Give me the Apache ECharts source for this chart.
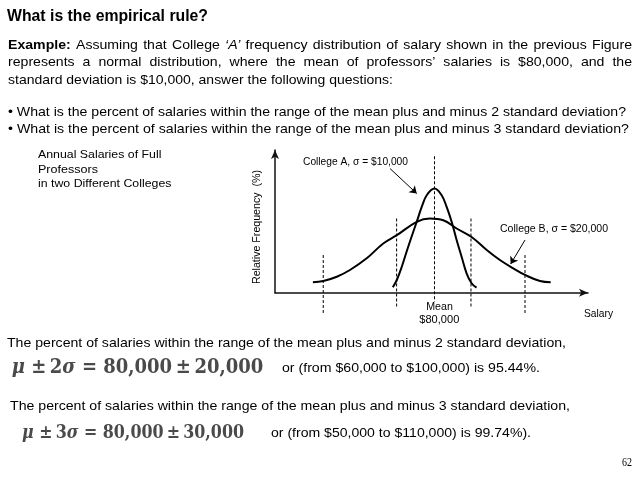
<!DOCTYPE html>
<html><head><meta charset="utf-8">
<script src="https://cdn.jsdelivr.net/npm/echarts@6/dist/echarts.min.js"></script>
<style>html,body{margin:0;padding:0;background:#fff}#c{width:638px;height:479px}</style>
</head><body><div id="c"></div>
<script>
// ---- data (salary in $1000, relative frequency in %) ----
const collegeA = [[59.1,3.8],[61.1,8.9],[63.6,18.2],[66.0,28.7],[68.5,39.2],[71.1,49.7],[73.6,60.1],[76.1,68.3],[80,73],[83.6,68.3],[86.1,60.1],[88.6,49.7],[91.1,36.9],[93.6,25.2],[96.1,13.6],[98.6,6.6],[101.1,3.5]];
const collegeB = [[19,7.3],[24.2,8.2],[31,11.2],[37.6,15.9],[46,24.1],[54.3,34.5],[61.1,40.3],[71.1,49.7],[77.7,52],[84.4,50.8],[91.1,45],[98.6,39],[106.2,29.9],[112.8,22.9],[119.5,17.1],[126.2,11.9],[132.9,8.2],[138.3,7.3]];
const dashX = [24.2, 61.0, 80, 98.3, 125.4];
const dashTop = [26.4, 52, 95.6, 52, 26.4];
const dashBottom = [-14.2, -10.7, -6.3, -10.7, -15];
const arrowA = [[57.7, 87], [71.1, 69.5]];
const arrowB = [[125.4, 36.9], [118.2, 20.1]];
const labelA = 'College A, σ = $10,000';
const labelB = 'College B, σ = $20,000';

// ---- text helpers ----
const ctx = document.createElement('canvas').getContext('2d');
function mw(t, font){ ctx.font = font; return ctx.measureText(t).width; }
const SANS = '"Liberation Sans", Arial, sans-serif';
const SERIF = '"DejaVu Serif", serif';
function fit(t, x, y, w, font, o) {
  o = o || {};
  const plain = o.plain || t;
  const s = w / mw(plain, font);
  const st = {text:t, font:font, fill:o.fill||'#000', textAlign:o.align||'left', align:o.align||'left',
    textVerticalAlign:'middle', verticalAlign:'middle'};
  if (o.rich) st.rich = o.rich;
  return {type:'text', x:x, y:y, scaleX:s, rotation:o.rotation||0, silent:true, style:st};
}
function justify(words, x, y, w, k) {
  let total = 0;
  words.forEach(wd => { wd.w = mw(wd.t, wd.font) * k; total += wd.w; });
  const gap = (w - total) / (words.length - 1);
  let cx = x; const out = [];
  words.forEach(wd => {
    out.push({type:'text', x:cx, y:y, scaleX:k, silent:true,
      style:{text:wd.t, font:wd.font, fill:'#000', textAlign:'left', align:'left', textVerticalAlign:'middle', verticalAlign:'middle'}});
    cx += wd.w + gap;
  });
  return out;
}
const BODY = '13.5px ' + SANS;
const BODYB = 'bold 13.5px ' + SANS;
const BODYI = 'italic 13.5px ' + SANS;
const bullet1 = '• What is the percent of salaries within the range of the mean plus and minus 2 standard deviation?';
const kBody = 618 / mw(bullet1, BODY);
const line1 = [{t:'Example:', font:BODYB}].concat(
  'Assuming that College'.split(' ').map(t => ({t, font:BODY})),
  [{t:'‘A’', font:BODYI}],
  'frequency distribution of salary shown in the previous Figure'.split(' ').map(t => ({t, font:BODY})));
const line2 = 'represents a normal distribution, where the mean of professors’ salaries is $80,000, and the'.split(' ').map(t => ({t, font:BODY}));

const FCOL = '#4a4a4a';
const richF = {i:{fontStyle:'italic', fontWeight:'bold', fontFamily:'DejaVu Serif', fontSize:20, fill:FCOL}};
const richF2 = {i:{fontStyle:'italic', fontWeight:'bold', fontFamily:'DejaVu Serif', fontSize:18, fill:FCOL}};
const f1 = 'μ ±\u20092σ = 80,000\u2009±\u200920,000';
const f2 = 'μ ±\u20093σ = 80,000\u2009±\u200930,000';

const graphics = [
  fit('What is the empirical rule?', 7, 16.5, 201, 'bold 16px ' + SANS),
  ...justify(line1, 8, 45, 624, kBody),
  ...justify(line2, 8, 62.5, 624, kBody),
  fit('standard deviation is $10,000, answer the following questions:', 8, 80, 385, BODY),
  fit(bullet1, 8, 112, 618, BODY),
  fit('• What is the percent of salaries within the range of the mean plus and minus 3 standard deviation?', 8, 129.5, 621, BODY),
  fit('Annual Salaries of Full', 38, 155, 123.4, '11px ' + SANS),
  fit('Professors', 38, 169.5, 60, '11px ' + SANS),
  fit('in two Different Colleges', 38, 184.2, 133.4, '11px ' + SANS),
  fit(labelA, 303, 162, 105, '10px ' + SANS),
  fit(labelB, 500, 229, 108, '10px ' + SANS),
  fit('Relative Frequency  (%)', 257.5, 227, 114, '10px ' + SANS, {align:'center', rotation:Math.PI/2}),
  fit('Salary', 584, 314, 29, '10.5px ' + SANS),
  fit('Mean', 439.5, 307, 26.7, '10.5px ' + SANS, {align:'center'}),
  fit('$80,000', 439.3, 320, 40, '10.5px ' + SANS, {align:'center'}),
  fit('The percent of salaries within the range of the mean plus and minus 2 standard deviation,', 7, 343, 559, BODY),
  fit('{i|μ} ±\u20092{i|σ} = 80,000\u2009±\u200920,000', 11.7, 368, 251.6, 'bold 20px ' + SERIF, {plain:f1, fill:FCOL, rich:richF}),
  fit('or (from $60,000 to $100,000) is 95.44%.', 282, 368, 258, '13px ' + SANS),
  fit('The percent of salaries within the range of the mean plus and minus 3 standard deviation,', 10, 406, 560, BODY),
  fit('{i|μ} ±\u20093{i|σ} = 80,000\u2009±\u200930,000', 22, 433, 222, 'bold 18px ' + SERIF, {plain:f2, fill:FCOL, rich:richF2}),
  fit('or (from $50,000 to $110,000) is 99.74%).', 271, 433, 260, '13px ' + SANS),
  fit('62', 622, 463, 10, '12.5px "Liberation Serif", serif')
];

const dashSeries = dashX.map((x, i) => ({
  type:'line', data:[[x, dashTop[i]], [x, dashBottom[i]]], symbol:'none', clip:false, silent:true,
  lineStyle:{color:'#000', width:1, type:[3,2]}
}));

const chart = echarts.init(document.getElementById('c'), null, {renderer:'canvas'});
chart.setOption({
  backgroundColor:'#fff',
  animation:false,
  grid:{left:275, top:150, right:50, bottom:186.3, containLabel:false},
  xAxis:{type:'value', min:0, max:157, axisTick:{show:false}, axisLabel:{show:false}, splitLine:{show:false},
    axisLine:{show:true, symbol:['none','arrow'], symbolSize:[6,9], lineStyle:{color:'#111', width:1.5}}},
  yAxis:{type:'value', min:0, max:100, axisTick:{show:false}, axisLabel:{show:false}, splitLine:{show:false},
    axisLine:{show:true, symbol:['none','arrow'], symbolSize:[6,9], lineStyle:{color:'#111', width:1.5}}},
  series:[
    {type:'line', name:'College A', data:collegeA, smooth:0.4, symbol:'none', lineStyle:{color:'#000', width:2}},
    {type:'line', name:'College B', data:collegeB, smooth:0.4, symbol:'none', lineStyle:{color:'#000', width:2}},
    ...dashSeries,
    {type:'lines', coordinateSystem:'cartesian2d', symbol:['none','arrow'], symbolSize:7, silent:true,
      lineStyle:{color:'#000', width:1, opacity:1},
      data:[{coords:arrowA}, {coords:arrowB}]}
  ],
  graphic:graphics
});
</script></body></html>
